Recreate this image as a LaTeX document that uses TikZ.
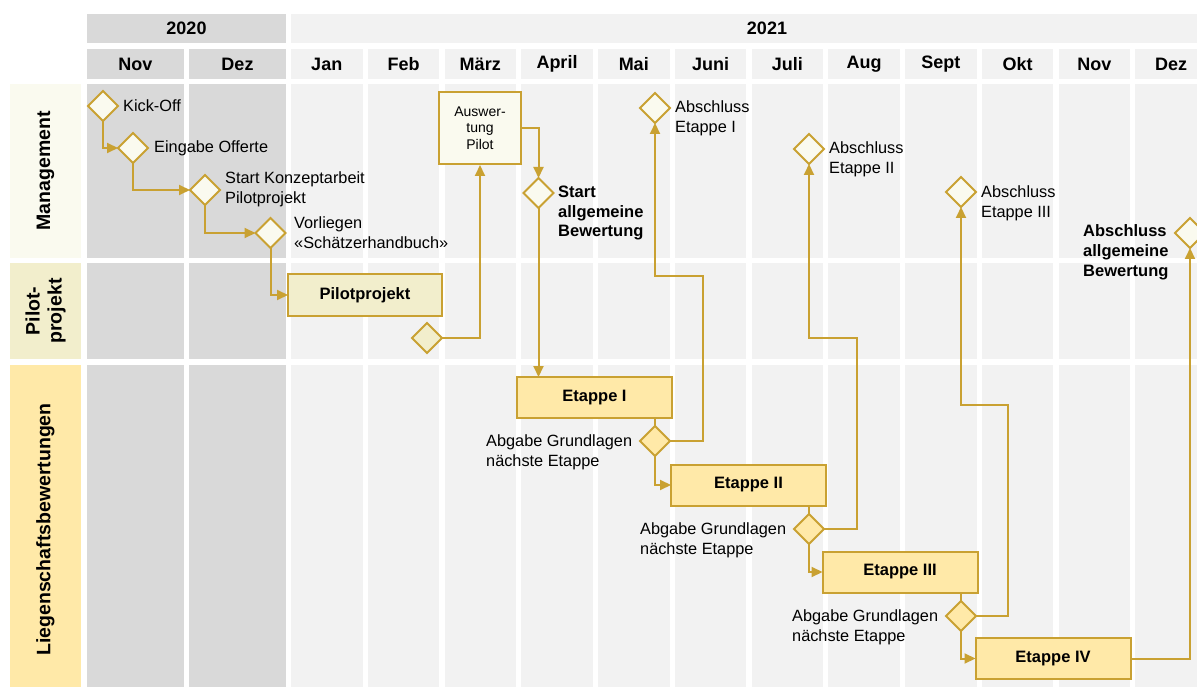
\documentclass[tikz,border=0pt]{standalone}
\usepackage{fontspec}
\setmainfont{Liberation Sans}
\usetikzlibrary{arrows.meta,shapes.geometric}
\definecolor{gold}{HTML}{C9A132}
\definecolor{grayA}{HTML}{D9D9D9}
\definecolor{grayB}{HTML}{F2F2F2}
\definecolor{creamM}{HTML}{FAFAEF}
\definecolor{creamP}{HTML}{F2EECC}
\definecolor{creamL}{HTML}{FFE9A8}
\begin{document}
\begin{tikzpicture}[x=1pt,y=-1pt,
  hdr/.style={font=\fontsize{18}{21}\selectfont\bfseries,inner sep=0},
  lanelbl/.style={font=\fontsize{19.5}{22}\selectfont\bfseries,rotate=90,align=center,inner sep=0},
  ms/.style={diamond,draw=gold,line width=2,fill=creamM,minimum width=30,minimum height=30,inner sep=0,outer sep=0},
  txt/.style={font=\fontsize{16.3}{19.7}\selectfont,align=left,inner sep=0,anchor=west},
  btxt/.style={font=\fontsize{16.5}{19.9}\selectfont\bfseries,align=left,inner sep=0,anchor=west},
  task/.style={draw=gold,line width=2,fill=creamL,minimum width=155,minimum height=41,inner sep=0,outer sep=0,font=\fontsize{16.5}{19}\selectfont\bfseries},
  conn/.style={draw=gold,line width=2},
  arr/.style={conn,-{Triangle[length=11,width=10]}}
]
\useasboundingbox (0,0) rectangle (1197,687);
\clip (0,0) rectangle (1197,687);
% header years
\fill[grayA] (87,14) rectangle (286,43);
\fill[grayB] (291,14) rectangle (1250,43);
\node[hdr] (y2020) at (186.5,28.5) {2020};
\node[hdr] (y2021) at (767,28.5) {2021};
% lane labels
\fill[creamM] (10,84) rectangle (81,258);
\fill[creamP] (10,263) rectangle (81,359);
\fill[creamL] (10,365) rectangle (81,700);
\node[lanelbl] (lmgmt) at (45.5,171) {Management};
\node[lanelbl] (lpilot) at (45.5,311) {Pilot-\\projekt};
\node[lanelbl] (llieg) at (45.5,529.5) {Liegenschaftsbewertungen};
% 2020 months
\foreach \l/\r/\m [count=\k] in {87/184/Nov,189/286/Dez}{
  \fill[grayA] (\l,49) rectangle (\r,79);
  \node[hdr] (m20-\k) at ({(\l+\r)/2},64) {\m};
  \fill[grayA] (\l,84) rectangle (\r,258);
  \fill[grayA] (\l,263) rectangle (\r,359);
  \fill[grayA] (\l,365) rectangle (\r,700);
}
% 2021 months
\foreach \m [count=\i from 0] in {Jan,Feb,März,April,Mai,Juni,Juli,Aug,Sept,Okt,Nov,Dez}{
  \pgfmathsetmacro\L{291+76.75*\i}
  \pgfmathsetmacro\R{\L+71.5}
  \fill[grayB] (\L,49) rectangle (\R,79);
  \node[hdr] (m21-\i) at ({(\L+\R)/2},64) {\m};
  \fill[grayB] (\L,84) rectangle (\R,258);
  \fill[grayB] (\L,263) rectangle (\R,359);
  \fill[grayB] (\L,365) rectangle (\R,700);
}
% management milestones
\node[ms] (ko) at (103,106) {};
\node[ms] (eo) at (133,148) {};
\node[ms] (sk) at (205,190) {};
\node[ms] (vh) at (270.5,233) {};
\node[txt] (tko) at (123,106) {Kick-Off};
\node[txt] (teo) at (154,148) {Eingabe Offerte};
\node[txt] (tsk) at (225,189.5) {Start Konzeptarbeit\\Pilotprojekt};
\node[txt] (tvh) at (294,233) {Vorliegen\\«Schätzerhandbuch»};
% pilot
\node[task,fill=creamP,minimum width=154,minimum height=42] (pp) at (365,295) {Pilotprojekt};
\node[ms,fill=creamP] (pd) at (427,338) {};
\node[draw=gold,line width=2,fill=creamM,minimum width=82,minimum height=72,inner sep=0,align=center,font=\fontsize{14}{16.7}\selectfont] (ausw) at (480,128) {Auswer-\\tung\\Pilot};
\node[ms] (sab) at (538.5,193) {};
\node[btxt] (tsab) at (558,213) {Start\\allgemeine\\Bewertung};
% Abschluss milestones
\node[ms] (a1) at (655,108) {};
\node[txt] (ta1) at (675,118) {Abschluss\\Etappe I};
\node[ms] (a2) at (809,149) {};
\node[txt] (ta2) at (829,159.5) {Abschluss\\Etappe II};
\node[ms] (a3) at (961,192) {};
\node[txt] (ta3) at (981,203) {Abschluss\\Etappe III};
\node[ms] (aab) at (1190,233) {};
\node[btxt] (taab) at (1083,252.5) {Abschluss\\allgemeine\\Bewertung};
% Etappen
\node[task] (e1) at (594.5,397.5) {Etappe I};
\node[task] (e2) at (748.5,485) {Etappe II};
\node[task] (e3) at (900,572) {Etappe III};
\node[task] (e4) at (1053,658.5) {Etappe IV};
\node[ms,fill=creamL] (d1) at (655,441) {};
\node[ms,fill=creamL] (d2) at (809,529) {};
\node[ms,fill=creamL] (d3) at (961,616) {};
\node[txt] (td1) at (486,452) {Abgabe Grundlagen\\nächste Etappe};
\node[txt] (td2) at (640,540) {Abgabe Grundlagen\\nächste Etappe};
\node[txt] (td3) at (792,627) {Abgabe Grundlagen\\nächste Etappe};
\coordinate (c1) at (703,276);
\coordinate (c2) at (857,338);
\coordinate (c3) at (1008,405);
% connectors
\draw[arr] (ko.south) |- (eo.west);
\draw[arr] (eo.south) |- (sk.west);
\draw[arr] (sk.south) |- (vh.west);
\draw[arr] (vh.south) |- (pp.west);
\draw[arr] (pd.east) -| (ausw.south);
\draw[arr] (ausw.east) -| (sab.north);
\draw[arr] (sab.south) -- (sab.south |- e1.north);
\draw[conn] (e1.south -| d1) -- (d1.north);
\draw[arr] (d1.east) -| (c1) -| (a1.south);
\draw[arr] (d1.south) |- (e2.west);
\draw[conn] (e2.south -| d2) -- (d2.north);
\draw[arr] (d2.east) -| (c2) -| (a2.south);
\draw[arr] (d2.south) |- (e3.west);
\draw[conn] (e3.south -| d3) -- (d3.north);
\draw[arr] (d3.east) -| (c3) -| (a3.south);
\draw[arr] (d3.south) |- (e4.west);
\draw[arr] (e4.east) -| (aab.south);
\end{tikzpicture}
\end{document}
